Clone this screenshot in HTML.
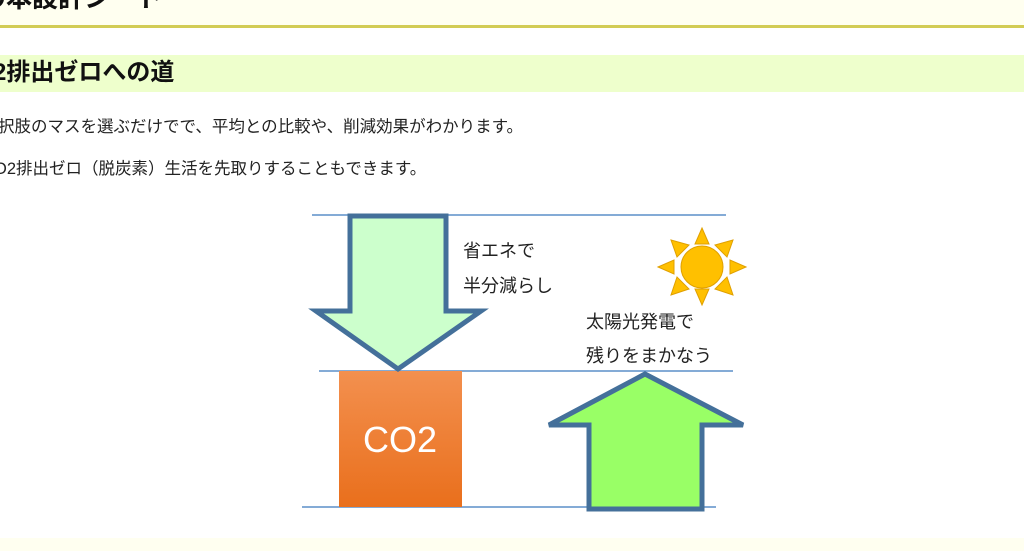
<!DOCTYPE html>
<html><head><meta charset="utf-8"><style>
body{margin:0;width:1024px;height:551px;overflow:hidden;background:#fff;position:relative;font-family:"Liberation Sans","Noto Sans CJK JP",sans-serif;color:#222}
.a{position:absolute;white-space:nowrap}
</style></head><body>
<div class="a" style="left:0;top:0;width:1024px;height:25px;background:#fffff0;border-bottom:3px solid #d2cc55"></div>
<div class="a" style="left:-20px;top:-22px;font-size:26px;font-weight:bold;color:#111">の本設計シート</div>
<div class="a" style="left:0;top:55px;width:1024px;height:37px;background:#eeffcc"></div>
<div class="a" style="left:-7px;top:58px;font-size:24px;font-weight:bold;color:#111;line-height:30px">2排出ゼロへの道</div>
<div class="a" style="left:-2px;top:113px;font-size:16.5px">択肢のマスを選ぶだけでで、平均との比較や、削減効果がわかります。</div>
<div class="a" style="left:-6px;top:155px;font-size:16.5px">O2排出ゼロ（脱炭素）生活を先取りすることもできます。</div>
<div class="a" style="left:0;top:538px;width:1024px;height:13px;background:#fffff0"></div>
<svg class="a" style="left:0;top:0" width="1024" height="551">
<defs><linearGradient id="g" x1="0" y1="0" x2="0" y2="1"><stop offset="0" stop-color="#f3904f"/><stop offset="1" stop-color="#e96f1c"/></linearGradient></defs>
<g stroke="#5b8fc9" stroke-width="1.5">
<line x1="312" y1="215" x2="726" y2="215"/><line x1="319" y1="371" x2="733" y2="371"/><line x1="302" y1="507" x2="716" y2="507"/></g>
<rect x="339" y="371" width="123" height="136" fill="url(#g)"/>
<text x="400" y="452" font-size="36" fill="#fff" text-anchor="middle" font-family="Liberation Sans">CO2</text>
<polygon points="350,216 446,216 446,311 481,311 398,369 316,311 350,311" fill="#ccffcc" stroke="#44709a" stroke-width="5" stroke-linejoin="miter"/>
<polygon points="645,374 743,425 702,425 702,509 589,509 589,425 549,425" fill="#99ff66" stroke="#44709a" stroke-width="5"/>
<g fill="#ffc000" stroke="#e0a000" stroke-width="1">
<polygon points="702,228 709,244 695,244"/><polygon points="702,305 709,289 695,289"/>
<polygon points="658,267 674,260 674,274"/><polygon points="746,267 730,260 730,274"/>
<polygon points="671,240 689,245 677,257"/><polygon points="733,240 715,245 727,257"/>
<polygon points="671,295 689,289 677,277"/><polygon points="733,295 715,289 727,277"/>
<circle cx="702" cy="267" r="21"/></g>
<g font-size="18" fill="#222" font-family="Liberation Sans,Noto Sans CJK JP,sans-serif">
<text x="463" y="257">省エネで</text><text x="463" y="292">半分減らし</text>
<text x="586" y="328">太陽光発電で</text><text x="586" y="362">残りをまかなう</text></g>
</svg>
</body></html>
